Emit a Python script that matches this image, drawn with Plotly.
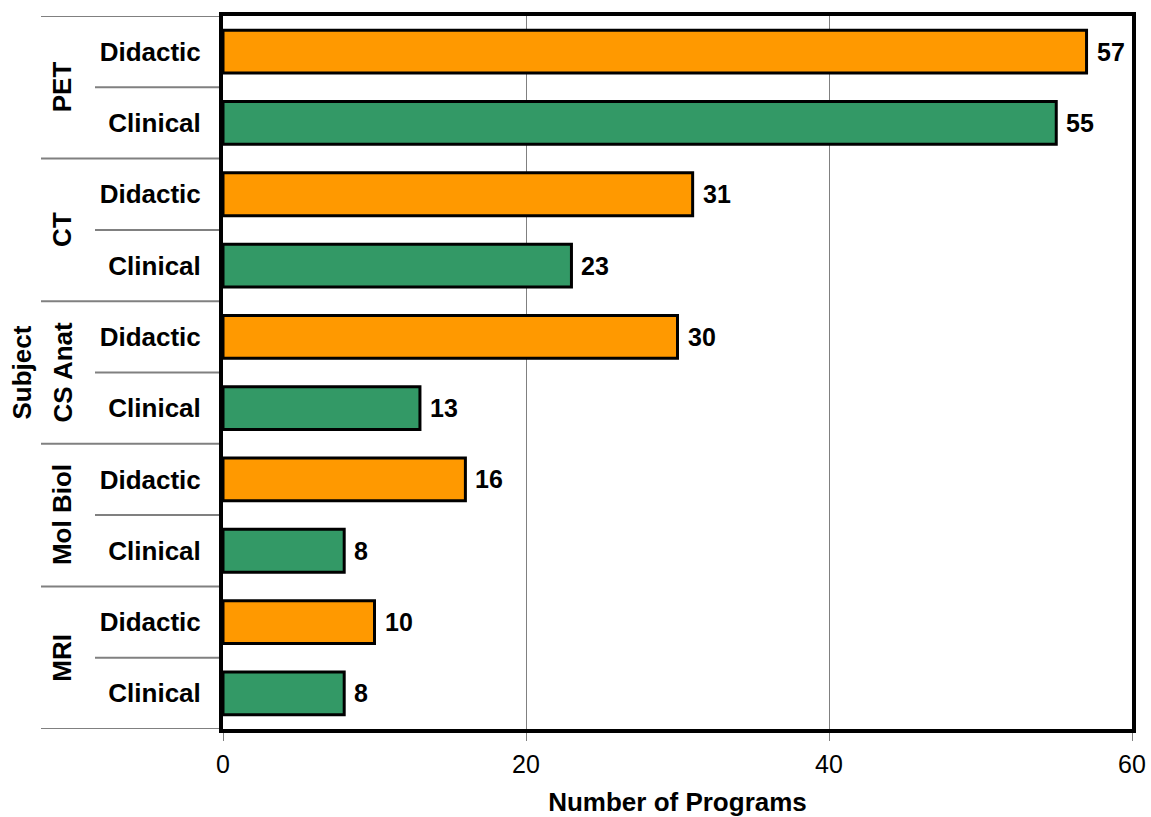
import plotly.graph_objects as go

subjects = ["PET", "CT", "CS Anat", "Mol Biol", "MRI"]
kinds = ["Didactic", "Clinical"]
didactic = [57, 31, 30, 16, 10]
clinical = [55, 23, 13, 8, 8]
x_ticks = [0, 20, 40, 60]

ORANGE = "#FF9900"
GREEN = "#339966"
FONT = "Liberation Sans, Arial, sans-serif"

n = len(subjects) * len(kinds)
ys, xs, cols, labels = [], [], [], []
for gi, s in enumerate(subjects):
    for ki, k in enumerate(kinds):
        pos = n - 1 - (gi * len(kinds) + ki)
        val = didactic[gi] if k == "Didactic" else clinical[gi]
        ys.append(pos)
        xs.append(val)
        cols.append(ORANGE if k == "Didactic" else GREEN)
        labels.append(k)

fig = go.Figure()
fig.add_trace(go.Bar(
    x=xs, y=ys, orientation="h",
    marker=dict(color=cols, line=dict(color="black", width=3)),
    width=0.6, showlegend=False, hoverinfo="x+y",
))

W, H = 1151, 817
ml, mr, mt, mb = 223, 19, 16, 88
pw = W - ml - mr

shapes = []
for gi in range(len(subjects) + 1):
    yb = n - 0.5 - gi * len(kinds)
    shapes.append(dict(type="line", xref="paper", yref="y", x0=-182 / pw, x1=0,
                       y0=yb, y1=yb, line=dict(color="#808080", width=2), layer="below"))
for gi in range(len(subjects)):
    yb = n - 0.5 - gi * len(kinds) - 1
    shapes.append(dict(type="line", xref="paper", yref="y", x0=-128 / pw, x1=0,
                       y0=yb, y1=yb, line=dict(color="#808080", width=2), layer="below"))

annotations = []
for xv, yv in zip(xs, ys):
    annotations.append(dict(text=str(xv), x=xv, y=yv, xref="x", yref="y", showarrow=False,
                            xanchor="left", yanchor="middle", xshift=8,
                            font=dict(family=FONT, size=25, color="black", weight="bold")))
for gi, s in enumerate(subjects):
    yc = n - 1 - gi * len(kinds) - (len(kinds) - 1) / 2
    annotations.append(dict(text=s, xref="paper", yref="y", x=-161 / pw, y=yc,
                            textangle=-90, showarrow=False, xanchor="center", yanchor="middle",
                            font=dict(family=FONT, size=26, color="black", weight="bold")))
annotations.append(dict(text="Subject", xref="paper", yref="paper", x=-202 / pw, y=0.5,
                        textangle=-90, showarrow=False, xanchor="center", yanchor="middle",
                        font=dict(family=FONT, size=26, color="black", weight="bold")))

fig.update_layout(
    width=W, height=H,
    margin=dict(l=ml, r=mr, t=mt, b=mb, autoexpand=False),
    paper_bgcolor="white", plot_bgcolor="white",
    shapes=shapes, annotations=annotations,
)
fig.update_xaxes(
    range=[0, 60], tickvals=x_ticks, ticktext=[str(t) for t in x_ticks],
    showgrid=True, gridcolor="#808080", gridwidth=1,
    showline=True, linecolor="black", linewidth=4, mirror=True,
    ticks="outside", ticklen=8, tickcolor="#808080", tickwidth=1,
    ticklabelstandoff=2,
    tickfont=dict(family=FONT, size=25, color="black"),
    title=dict(text="Number of Programs", font=dict(family=FONT, size=26, color="black", weight="bold"), standoff=17),
    zeroline=False, automargin=False,
)
fig.update_yaxes(
    range=[-0.5, n - 0.5], tickvals=ys, ticktext=labels,
    showgrid=False, zeroline=False,
    showline=True, linecolor="black", linewidth=4, mirror=True,
    ticks="", ticklabelstandoff=13, automargin=False,
    tickfont=dict(family=FONT, size=26, color="black", weight="bold"),
)

fig.write_html(
    "out.html",
    config={"displayModeBar": False},
    post_script="document.body.style.margin='0';document.body.style.overflow='hidden';",
)
